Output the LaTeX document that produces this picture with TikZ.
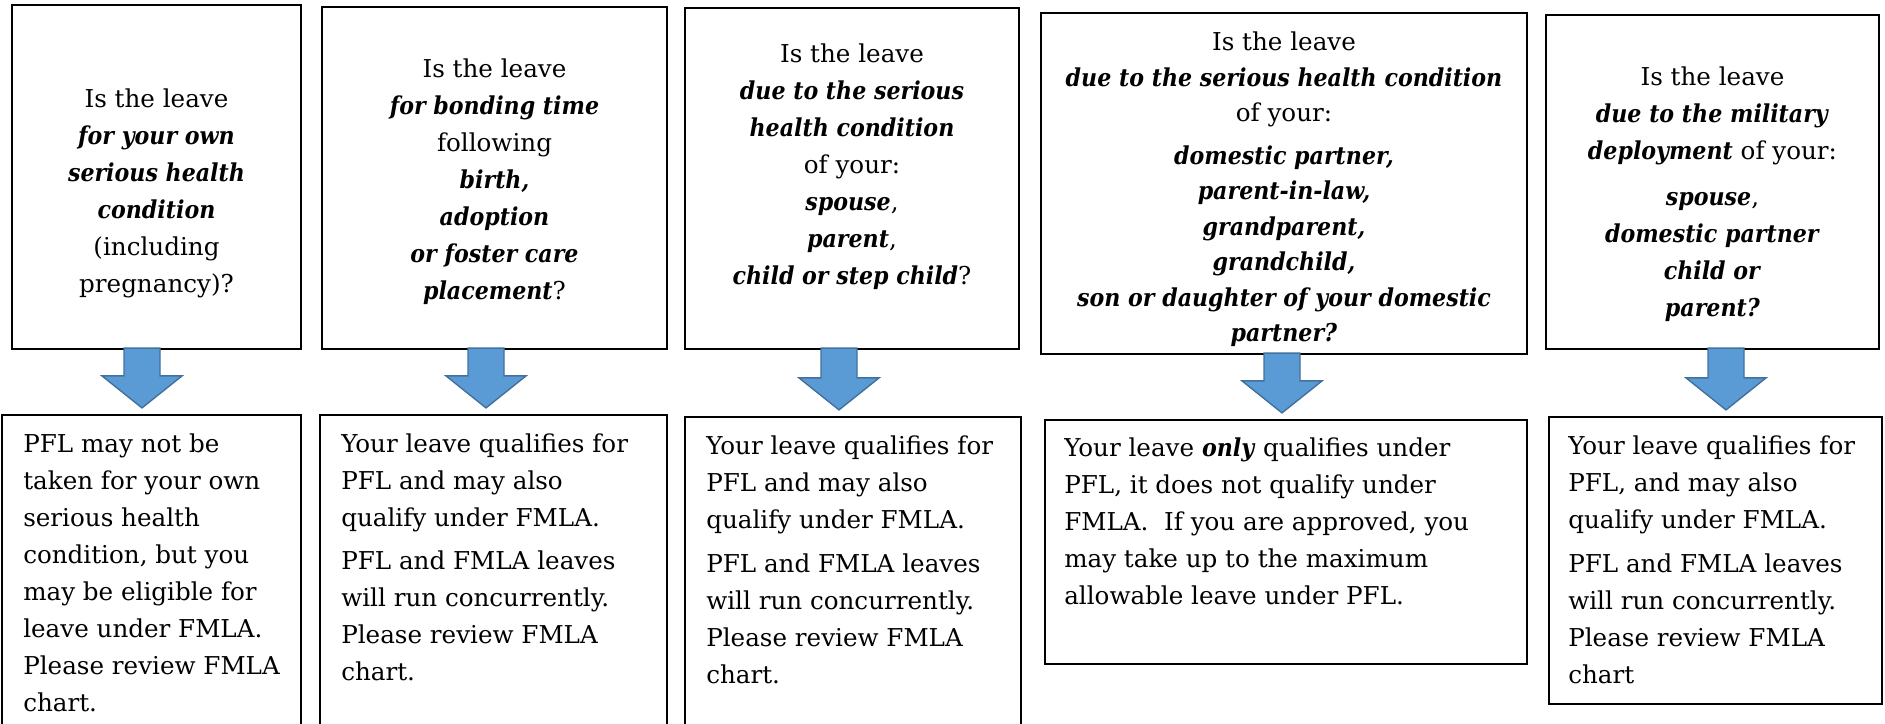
\documentclass[tikz,border=0pt]{standalone}
\usepackage{fontspec}
\setmainfont{DejaVu Serif}[BoldItalicFeatures={FakeStretch=0.9}]
\usetikzlibrary{calc,fit}

\definecolor{arrowFill}{HTML}{5B9BD5}
\definecolor{arrowEdge}{HTML}{41719C}
\newcommand{\keyText}[1]{\textbf{\textit{#1}}}

\begin{document}
\begin{tikzpicture}[
    x=0.5pt, y=-0.5pt,
    font=\fontsize{12.3}{18.5}\selectfont,
    questionBox/.style={draw=black, line width=1.1pt, inner sep=0pt},
    answerBox/.style={draw=black, line width=1.1pt, inner sep=0pt},
    questionText/.style={anchor=north, align=center, inner sep=0pt},
    answerText/.style={anchor=north west, align=left, inner sep=0pt},
    blockArrow/.style={fill=arrowFill, draw=arrowEdge, line width=0.7pt},
  ]

\useasboundingbox (0,0) rectangle (1885,723);
\clip (0,0) rectangle (1885,723);

% ============================ question row ===============================
\node[questionBox, fit={(12,5) (301,349)}]     (q1) {};
\node[questionBox, fit={(322,7) (667,349)}]    (q2) {};
\node[questionBox, fit={(685,8) (1019,349)}]   (q3) {};
\node[questionBox, fit={(1041,13) (1527,354)}] (q4) {};
\node[questionBox, fit={(1546,15) (1879,349)}] (q5) {};

\node[questionText] (q1t) at ($(q1.north)+(0,85)$)
  {Is the leave\\ \keyText{for your own}\\ \keyText{serious health}\\
   \keyText{condition}\\ (including\\ pregnancy)?};
\node[questionText] (q2t) at ($(q2.north)+(0,53)$)
  {Is the leave\\ \keyText{for bonding time}\\ following\\ \keyText{birth,}\\
   \keyText{adoption}\\ \keyText{or foster care}\\ \keyText{placement}?};
\node[questionText] (q3t) at ($(q3.north)+(0,37)$)
  {Is the leave\\ \keyText{due to the serious}\\ \keyText{health condition}\\
   of your:\\ \keyText{spouse},\\ \keyText{parent},\\ \keyText{child or step child}?};
% tighter leading so the nine lines stay inside the box
\node[questionText, font=\fontsize{12.3}{17.75}\selectfont] (q4t)
  at ($(q4.north)+(0,20)$)
  {Is the leave\\ \keyText{due to the serious health condition}\\ of your:\\[3.5pt]
   \keyText{domestic partner,}\\ \keyText{parent-in-law,}\\ \keyText{grandparent,}\\
   \keyText{grandchild,}\\ \keyText{son or daughter of your domestic}\\
   \keyText{partner?}};
\node[questionText] (q5t) at ($(q5.north)+(0,53)$)
  {Is the leave\\ \keyText{due to the military}\\ \keyText{deployment} of your:\\[4.5pt]
   \keyText{spouse},\\ \keyText{domestic partner}\\ \keyText{child or}\\
   \keyText{parent?}};

% ============================ answer row =================================
\node[answerBox, fit={(2,415) (301,760)}]      (r1) {};
\node[answerBox, fit={(320,415) (667,760)}]    (r2) {};
\node[answerBox, fit={(685,417) (1021,760)}]   (r3) {};
\node[answerBox, fit={(1045,420) (1527,664)}]  (r4) {};
\node[answerBox, fit={(1549,417) (1882,704)}]  (r5) {};

\node[answerText] (r1t) at ($(r1.north west)+(22,19)$)
  {PFL may not be\\ taken for your own\\ serious health\\ condition, but you\\
   may be eligible for\\ leave under FMLA.\\ Please review FMLA\\ chart.};
\node[answerText] (r2t) at ($(r2.north west)+(22,19)$)
  {Your leave qualifies for\\ PFL and may also\\ qualify under FMLA.\\[3.5pt]
   PFL and FMLA leaves\\ will run concurrently.\\ Please review FMLA\\ chart.};
\node[answerText] (r3t) at ($(r3.north west)+(22,19)$)
  {Your leave qualifies for\\ PFL and may also\\ qualify under FMLA.\\[3.5pt]
   PFL and FMLA leaves\\ will run concurrently.\\ Please review FMLA\\ chart.};
\node[answerText] (r4t) at ($(r4.north west)+(20,19)$)
  {Your leave \keyText{only} qualifies under\\ PFL, it does not qualify under\\
   FMLA.~~If you are approved, you\\ may take up to the maximum\\
   allowable leave under PFL.};
\node[answerText] (r5t) at ($(r5.north west)+(20,19)$)
  {Your leave qualifies for\\ PFL, and may also\\ qualify under FMLA.\\[3.5pt]
   PFL and FMLA leaves\\ will run concurrently.\\ Please review FMLA\\ chart};

% ============================ block arrows ===============================
\foreach \i/\ax in {1/142, 2/486, 3/839, 4/1282, 5/1726}{
  \coordinate (axis\i) at (\ax,0);
  \coordinate (tip\i) at ($(r\i.north -| axis\i)+(0,-6)$);
  \draw[blockArrow] ($(q\i.south -| axis\i)+(-18,-2)$) -- ++(36,0)
    -- ($(tip\i)+(18,-32)$) -- ++(22,0) -- (tip\i) -- ++(-40,-32)
    -- ++(22,0) -- cycle;
}

\end{tikzpicture}
\end{document}
